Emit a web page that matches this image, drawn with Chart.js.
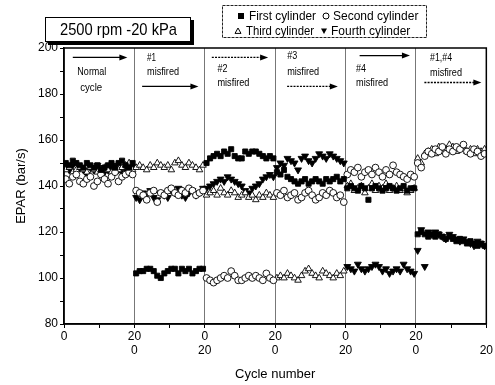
<!DOCTYPE html>
<html>
<head>
<meta charset="utf-8">
<script src="https://cdn.jsdelivr.net/npm/chart.js@4.4.0/dist/chart.umd.min.js"></script>
<style>
  body { margin: 0; background: #fff; }
  #wrap { width: 495px; height: 385px; }
</style>
</head>
<body>
<div id="wrap"><canvas id="chartEpar" width="495" height="385"></canvas></div>
<script>
// data: 6 blocks of 20 cycles each
const conditionTitle = '2500 rpm -20 kPa';
const seriesNames = ['First cylinder', 'Second cylinder', 'Third cylinder', 'Fourth cylinder'];
const cycles = [1, 2, 3, 4, 5, 6, 7, 8, 9, 10, 11, 12, 13, 14, 15, 16, 17, 18, 19, 20];
const xTickLabels = [['0'], ['20', '0'], ['0', '20'], ['20', '0'], ['0', '20'], ['20', '0'], ['', '20']];
const yTickLabels = [80, 100, 120, 140, 160, 180, 200];

const firstCyl = [
  150,149,151,150,149,148,150,149,148,149,147,148,149,150,148,150,151,149,148,150,
  102,103,103,104,104,103,101,100,102,103,104,104,102,104,103,104,102,103,104,104,
  150,152,153,154,153,155,154,156,153,152,152,155,154,155,155,154,153,152,153,152,
  146,145,147,144,143,142,141,142,143,141,142,143,142,141,143,142,143,144,142,143,
  139,140,139,138,140,139,134,139,140,139,138,139,140,139,138,139,140,138,139,139,
  119,120,119,118,119,118,119,118,117,118,117,116,117,116,115,116,115,114,115,114
];
const secondCyl = [
  143,141,144,145,142,141,143,144,140,142,145,143,141,144,146,142,144,145,146,145,
  138,137,136,134,137,138,133,137,136,138,139,137,136,138,137,139,138,136,137,138,
  100,99,98,99,100,101,100,103,101,99,99,100,101,100,101,100,99,102,100,99,
  137,136,138,135,136,137,134,135,137,138,136,134,135,137,136,138,137,135,136,133,
  145,147,146,148,144,146,147,145,148,146,144,147,145,149,146,145,144,143,145,144,
  150,148,153,155,154,156,155,157,154,156,155,157,156,158,155,154,156,155,153,154
];
const thirdCyl = [
  147,148,146,147,148,147,146,148,147,146,147,148,147,146,148,147,148,149,150,147,
  148,149,148,147,149,148,150,149,148,149,147,150,151,149,148,150,149,148,147,149,
  136,137,138,136,139,137,136,138,137,135,136,137,135,136,134,136,135,137,136,135,
  100,101,100,102,101,100,99,101,103,104,102,101,100,103,102,101,100,102,101,103,
  140,141,138,139,140,137,139,141,138,140,139,141,138,139,140,138,139,137,138,139,
  152,150,154,155,156,154,157,155,156,158,157,155,156,157,155,156,154,156,155,156
];
const fourthCyl = [
  148,147,149,146,148,147,145,148,147,149,148,146,147,148,149,147,146,148,149,148,
  135,134,137,136,138,135,134,137,136,135,138,137,139,136,135,137,138,136,137,139,
  139,140,141,142,143,142,144,143,142,141,140,138,137,139,140,141,143,144,145,144,
  148,150,149,152,151,150,147,152,153,151,150,152,154,153,152,154,153,152,151,150,
  105,104,103,106,104,103,104,105,106,105,103,104,102,103,104,103,106,104,103,102,
  112,121,105,120,119,120,119,118,117,119,118,117,116,117,116,115,114,116,115,114
];

// annotation text + arrows, placed in axis units
const notes = [
  { texts: [['Normal', 3.8, 189.8, 29], ['cycle', 4.6, 182.8, 22]], arrow: [2.5, 18, 195.9, false] },
  { texts: [['#1', 23.6, 195.9, 9], ['misfired', 23.6, 189.8, 32]], arrow: [22.2, 38.2, 183.3, false] },
  { texts: [['#2', 43.6, 191.1, 10], ['misfired', 43.6, 185, 32]], arrow: [42, 58, 195.9, true] },
  { texts: [['#3', 63.4, 196.7, 10], ['misfired', 63.4, 189.8, 32]], arrow: [63.4, 77.8, 183.3, true] },
  { texts: [['#4', 83, 191.1, 10], ['misfired', 83, 185, 32]], arrow: [84, 98.3, 196.7, false] },
  { texts: [['#1,#4', 104, 195.9, 22], ['misfired', 104, 189.3, 32]], arrow: [102.4, 118.6, 185, true] }
];

function toPoints(values) {
  const pts = [];
  for (let s = 0; s < 6; s++) {
    cycles.forEach((c, i) => pts.push({ x: s * 20 + c - 0.5, y: values[s * 20 + i] }));
  }
  return pts;
}

const FONT = "'Liberation Sans', Arial, sans-serif";

function drawMarker(ctx, kind, x, y, r) {
  ctx.save();
  ctx.lineWidth = 1;
  ctx.strokeStyle = '#000';
  ctx.beginPath();
  if (kind === 0) {
    ctx.rect(x - r, y - r, 2 * r, 2 * r);
    ctx.fillStyle = '#000'; ctx.fill();
  } else if (kind === 1) {
    ctx.arc(x, y, r, 0, Math.PI * 2);
    ctx.fillStyle = '#fff'; ctx.fill(); ctx.stroke();
  } else if (kind === 2) {
    ctx.moveTo(x, y - r); ctx.lineTo(x + r, y + r * 0.8); ctx.lineTo(x - r, y + r * 0.8); ctx.closePath();
    ctx.fillStyle = '#fff'; ctx.fill(); ctx.stroke();
  } else {
    ctx.moveTo(x, y + r); ctx.lineTo(x + r, y - r * 0.8); ctx.lineTo(x - r, y - r * 0.8); ctx.closePath();
    ctx.fillStyle = '#000'; ctx.fill();
  }
  ctx.restore();
}

const decorations = {
  id: 'decorations',
  afterDraw(chart) {
    const ctx = chart.ctx;
    const a = chart.chartArea;
    const xs = chart.scales.x, ys = chart.scales.y;
    ctx.save();
    // frame top / right
    ctx.strokeStyle = '#000';
    ctx.lineWidth = 1.5;
    ctx.strokeRect(a.left, a.top, a.right - a.left, a.bottom - a.top);

    // annotations
    ctx.fillStyle = '#000';
    ctx.textBaseline = 'middle';
    ctx.textAlign = 'left';
    ctx.font = '11.5px ' + FONT;
    notes.forEach(n => {
      n.texts.forEach(t => {
        ctx.fillText(t[0], xs.getPixelForValue(t[1]), ys.getPixelForValue(t[2]), t[3]);
      });
      const x1 = xs.getPixelForValue(n.arrow[0]);
      const x2 = xs.getPixelForValue(n.arrow[1]);
      const y = ys.getPixelForValue(n.arrow[2]);
      ctx.lineWidth = 1.3;
      ctx.setLineDash(n.arrow[3] ? [2, 1.2] : []);
      ctx.beginPath(); ctx.moveTo(x1, y); ctx.lineTo(x2 - 6, y); ctx.stroke();
      ctx.setLineDash([]);
      ctx.beginPath(); ctx.moveTo(x2, y); ctx.lineTo(x2 - 8, y - 3); ctx.lineTo(x2 - 8, y + 3); ctx.closePath(); ctx.fill();
    });

    // condition title box with shadow
    ctx.fillStyle = '#000';
    ctx.fillRect(48, 20, 146, 25);
    ctx.fillStyle = '#fff';
    ctx.fillRect(45, 17, 146, 25);
    ctx.lineWidth = 1;
    ctx.strokeRect(45.5, 17.5, 145, 24);
    ctx.fillStyle = '#000';
    ctx.font = '17px ' + FONT;
    ctx.textAlign = 'left';
    ctx.fillText(conditionTitle, 60, 30, 117);

    // legend box
    ctx.strokeStyle = '#222';
    ctx.lineWidth = 1;
    ctx.setLineDash([3, 1]);
    ctx.strokeRect(222.5, 5.5, 204, 32);
    ctx.setLineDash([]);
    ctx.font = '12px ' + FONT;
    // [marker x, y, text x, text max width]
    const legendPos = [[241, 16, 249, 67], [326, 16, 333, 90], [238, 31, 246, 68], [324, 31, 331, 88]];
    seriesNames.forEach((name, i) => {
      const p = legendPos[i];
      drawMarker(ctx, i, p[0], p[1], 3);
      ctx.fillStyle = '#000';
      ctx.fillText(name, p[2], p[1] + 0.5, p[3]);
    });
    ctx.restore();
  }
};

const markerStyles = [
  { pointStyle: 'rect', backgroundColor: '#000', borderColor: '#000', rotation: 0, radius: 3.6 },
  { pointStyle: 'circle', backgroundColor: '#fff', borderColor: '#000', rotation: 0, radius: 3.4 },
  { pointStyle: 'triangle', backgroundColor: '#fff', borderColor: '#000', rotation: 0, radius: 3.8 },
  { pointStyle: 'triangle', backgroundColor: '#000', borderColor: '#000', rotation: 180, radius: 4 }
];
const allSeries = [firstCyl, secondCyl, thirdCyl, fourthCyl];

const ctxEpar = document.getElementById('chartEpar').getContext('2d');
const chartEpar = new Chart(ctxEpar, {
  type: 'scatter',
  data: {
    datasets: allSeries.map((vals, i) => ({
      label: seriesNames[i],
      data: toPoints(vals),
      showLine: false,
      pointStyle: markerStyles[i].pointStyle,
      pointRotation: markerStyles[i].rotation,
      pointRadius: markerStyles[i].radius,
      pointBackgroundColor: markerStyles[i].backgroundColor,
      pointBorderColor: markerStyles[i].borderColor,
      pointBorderWidth: 0.9
    }))
  },
  options: {
    responsive: false,
    animation: false,
    layout: { padding: { top: 48, right: 0, left: 0, bottom: 0 } },
    plugins: { legend: { display: false }, tooltip: { enabled: false } },
    scales: {
      x: {
        type: 'linear',
        min: 0,
        max: 120,
        afterFit: s => { s.height = 61; },
        ticks: {
          stepSize: 10,
          autoSkip: false,
          maxRotation: 0,
          padding: 2,
          color: '#000',
          font: { family: FONT, size: 12, lineHeight: 1.15 },
          callback: v => (v % 20 === 0 ? xTickLabels[v / 20] : '')
        },
        grid: {
          drawOnChartArea: true,
          color: c => (c.tick && c.tick.value % 20 === 0 && c.tick.value > 0 && c.tick.value < 120 ? '#777' : 'rgba(0,0,0,0)'),
          tickColor: '#000',
          tickLength: 4
        },
        border: { color: '#000', width: 1.5 },
        title: {
          display: true,
          text: 'Cycle number',
          color: '#000',
          font: { family: FONT, size: 13 },
          padding: { top: 4, bottom: 3 }
        }
      },
      y: {
        min: 80,
        max: 200,
        afterFit: s => { s.width = 64; },
        ticks: {
          stepSize: 10,
          autoSkip: false,
          padding: 2,
          color: '#000',
          font: { family: FONT, size: 12 },
          callback: v => (yTickLabels.includes(v) ? String(v) : '')
        },
        grid: { drawOnChartArea: false, tickColor: '#000', tickLength: 4 },
        border: { color: '#000', width: 1.5 },
        title: {
          display: true,
          text: 'EPAR (bar/s)',
          color: '#000',
          font: { family: FONT, size: 13 },
          padding: { top: 14, bottom: 0 }
        }
      }
    }
  },
  plugins: [decorations]
});
</script>
</body>
</html>
